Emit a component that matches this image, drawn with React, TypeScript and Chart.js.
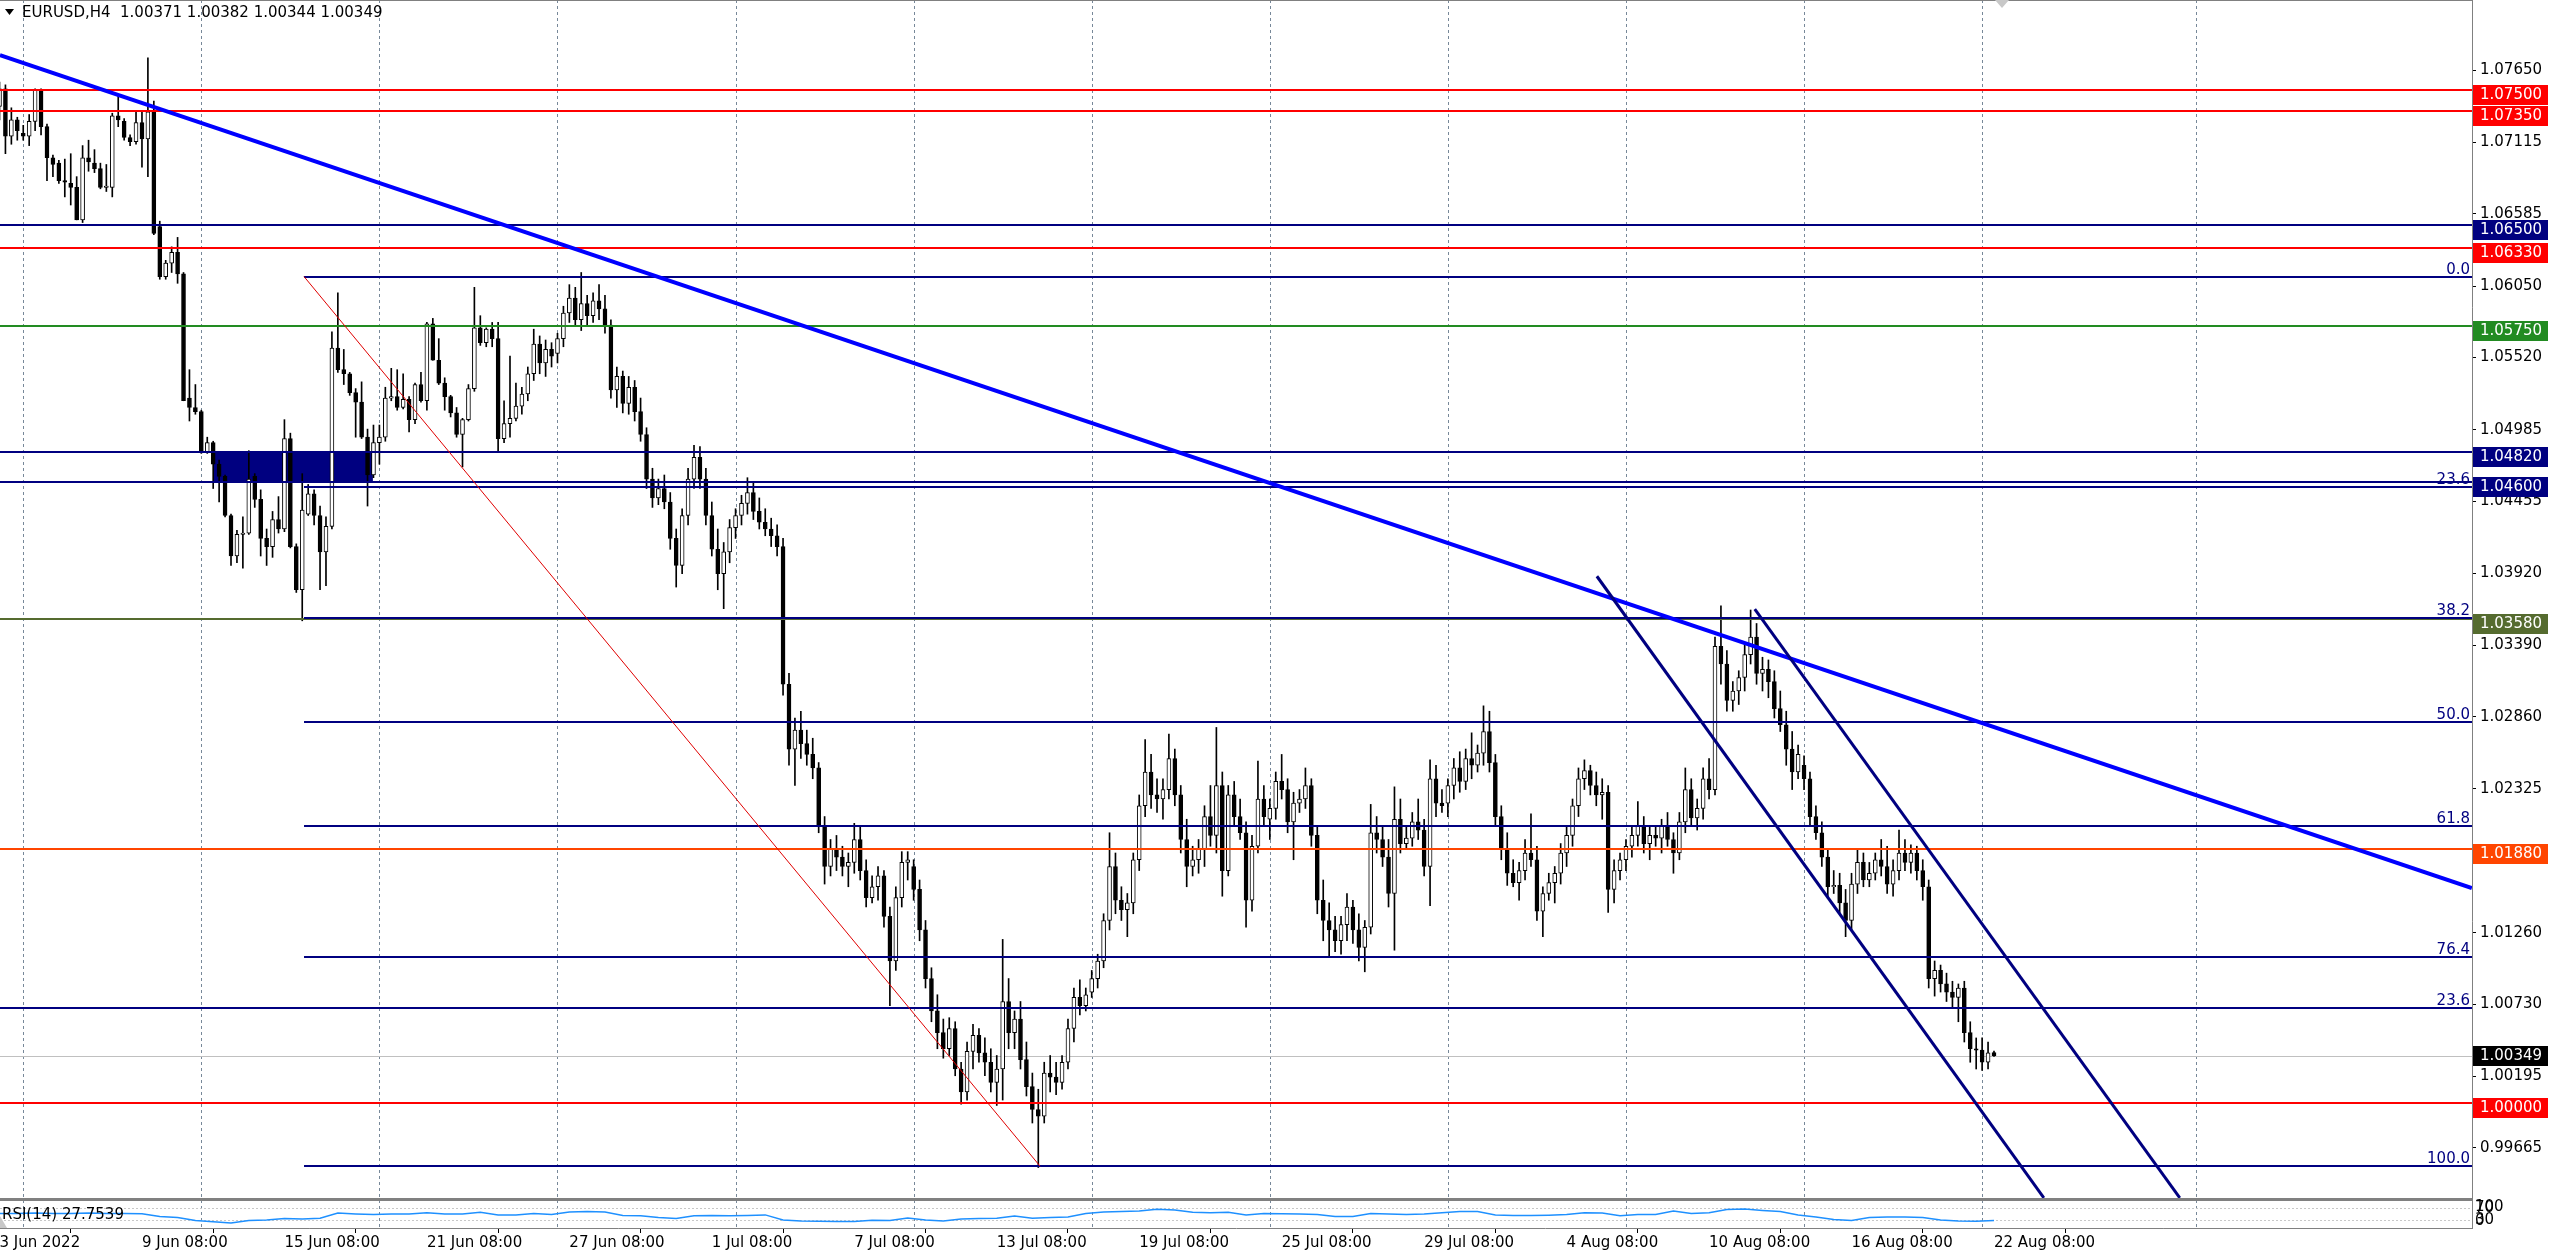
import React, { useEffect, useRef } from 'react';
import { Chart, registerables } from 'chart.js';
Chart.register(...registerables);

const W = 2560;
const H = 1254;
const FONT = '"DejaVu Sans", sans-serif';

// ---- candle data (EURUSD H4), bar 0 = 3 Jun 08:00 ... bar 336 = 22 Aug 08:00 ----
const opens = [
1.0738,1.0751,1.0716,1.0728,1.0718,1.0716,1.0727,1.0750,1.0723,1.0700,1.0696,1.0683,1.0681,1.0678,1.0654,1.0700,1.0696,1.0692,1.0678,1.0678,
1.0731,1.0727,1.0715,1.0712,1.0726,1.0714,1.0734,1.0649,1.0612,1.0622,1.0630,1.0614,1.0522,1.0515,1.0512,1.0482,1.0489,1.0473,1.0464,1.0435,
1.0405,1.0421,1.0422,1.0464,1.0447,1.0418,1.0412,1.0432,1.0425,1.0492,1.0412,1.0380,1.0436,1.0451,1.0435,1.0408,1.0427,1.0559,1.0543,1.0540,
1.0526,1.0519,1.0493,1.0465,1.0489,1.0493,1.0522,1.0523,1.0515,1.0521,1.0506,1.0532,1.0520,1.0577,1.0550,1.0533,1.0523,1.0511,1.0495,1.0506,
1.0529,1.0574,1.0563,1.0573,1.0566,1.0492,1.0503,1.0507,
1.0516,1.0525,1.0540,1.0562,1.0548,1.0558,1.0555,1.0566,1.0585,1.0596,
1.0580,1.0592,1.0583,1.0594,1.0588,1.0576,1.0528,1.0538,1.0518,1.0530,
1.0512,1.0495,1.0462,1.0448,1.0455,1.0445,1.0418,1.0398,1.0435,1.0462,
1.0478,1.0462,1.0435,1.0410,1.0392,1.0408,1.0426,1.0435,1.0444,1.0452,
1.0438,1.0430,1.0425,1.0420,1.0412,1.0310,1.0262,1.0276,1.0266,1.0258,
1.0248,1.0205,1.0175,1.0188,1.0182,1.0175,1.0178,1.0195,1.0172,1.0152,
1.0160,1.0168,1.0138,1.0105,1.0152,1.0178,1.0175,1.0158,1.0128,1.0092,
1.0068,1.0052,1.0040,1.0055,1.0025,1.0008,1.0038,1.0050,1.0037,1.0030,
1.0015,1.0025,1.0075,1.0052,1.0062,1.0032,1.0012,0.9995,0.9990,1.0022,
1.0019,1.0015,1.0030,1.0055,1.0078,1.0072,1.0082,1.0092,1.0105,1.0135,
1.0175,1.0150,1.0143,1.0148,1.0180,1.0220,1.0245,1.0228,1.0225,1.0232,
1.0255,1.0228,1.0195,1.0175,1.0180,1.0188,1.0212,1.0198,1.0235,1.0172,
1.0228,1.0212,1.0200,1.0150,1.0190,1.0225,1.0210,1.0218,1.0238,1.0232,
1.0208,1.0222,1.0225,1.0235,1.0198,1.0150,1.0135,1.0128,1.0120,1.0132,
1.0145,1.0128,1.0115,1.0130,1.0200,1.0195,1.0182,1.0155,1.0210,1.0192,
1.0196,1.0208,1.0202,1.0175,1.0240,1.0222,1.0222,1.0235,1.0248,1.0238,
1.0255,1.0250,1.0259,1.0275,1.0252,1.0212,1.0188,1.0170,1.0163,1.0172,
1.0185,1.0180,1.0142,1.0155,1.0163,1.0170,1.0185,1.0198,1.0220,1.0240,
1.0246,1.0235,1.0228,1.0230,1.0158,1.0172,1.0180,1.0190,1.0198,1.0205,
1.0192,1.0198,1.0196,1.0205,1.0195,1.0185,1.0208,1.0232,1.0211,1.0218,
1.0240,1.0232,1.0338,1.0325,1.0298,1.0305,1.0315,1.0332,1.0345,1.0318,
1.0321,1.0312,1.0292,1.0280,1.0262,1.0245,1.0250,1.0240,1.0212,1.0200,
1.0182,1.0160,1.0161,1.0148,1.0135,1.0162,1.0178,1.0165,1.0170,1.0180,
1.0175,1.0162,1.0172,1.0185,1.0178,1.0185,1.0172,1.0160,1.0092,1.0098,
1.0088,1.0082,1.0078,1.0085,1.0052,1.0040,1.0039,1.0030,1.00371
];
const highs = [
1.0756,1.0754,1.0737,1.0730,1.0724,1.0732,1.0751,1.0751,1.0725,1.0702,1.0698,1.0699,1.0703,1.0686,1.0709,1.0713,1.0706,1.0696,1.0695,1.0733,
1.0747,1.0729,1.0717,1.0734,1.0734,1.0774,1.0742,1.0653,1.0624,1.0634,1.0641,1.0615,1.0543,1.0532,1.0513,1.0493,1.0490,1.0476,1.0465,1.0436,
1.0424,1.0434,1.0483,1.0466,1.0454,1.0425,1.0438,1.0449,1.0506,1.0496,1.0414,1.0466,1.0458,1.0454,1.0442,1.0434,1.0571,1.0600,1.0558,1.0541,
1.0529,1.0534,1.0499,1.0502,1.0502,1.0530,1.0544,1.0543,1.0540,1.0523,1.0533,1.0541,1.0578,1.0581,1.0566,1.0537,1.0524,1.0515,1.0507,1.0532,
1.0604,1.0583,1.0574,1.0578,1.0578,1.0520,1.0553,1.0533,
1.0530,1.0545,1.0573,1.0568,1.0565,1.0563,1.0570,1.0590,1.0606,1.0604,
1.0615,1.0598,1.0600,1.0606,1.0598,1.0580,1.0545,1.0542,1.0538,1.0535,
1.0522,1.0500,1.0470,1.0462,1.0465,1.0452,1.0425,1.0440,1.0470,1.0487,
1.0486,1.0470,1.0445,1.0425,1.0415,1.0432,1.0440,1.0450,1.0463,1.0460,
1.0448,1.0440,1.0433,1.0428,1.0418,1.0318,1.0285,1.0290,1.0276,1.0270,
1.0252,1.0212,1.0195,1.0198,1.0190,1.0185,1.0207,1.0205,1.0180,1.0168,
1.0175,1.0172,1.0145,1.0160,1.0186,1.0186,1.0180,1.0165,1.0135,1.0100,
1.0080,1.0062,1.0063,1.0060,1.0030,1.0045,1.0058,1.0055,1.0048,1.0040,
1.0035,1.0121,1.0092,1.0068,1.0075,1.0045,1.0022,1.0010,1.0030,1.0035,
1.0030,1.0035,1.0062,1.0085,1.0091,1.0085,1.0098,1.0110,1.0140,1.0200,
1.0185,1.0160,1.0155,1.0185,1.0228,1.0269,1.0258,1.0240,1.0240,1.0273,
1.0262,1.0235,1.0210,1.0190,1.0195,1.0220,1.0235,1.0278,1.0245,1.0235,
1.0238,1.0225,1.0208,1.0198,1.0253,1.0235,1.0225,1.0245,1.0258,1.0240,
1.0230,1.0232,1.0248,1.0240,1.0205,1.0165,1.0148,1.0138,1.0138,1.0155,
1.0150,1.0140,1.0135,1.0221,1.0212,1.0205,1.0195,1.0234,1.0225,1.0205,
1.0215,1.0225,1.0210,1.0254,1.0250,1.0232,1.0240,1.0255,1.0260,1.0262,
1.0274,1.0265,1.0294,1.0290,1.0258,1.0220,1.0200,1.0180,1.0178,1.0195,
1.0214,1.0190,1.0160,1.0170,1.0175,1.0192,1.0205,1.0225,1.0248,1.0254,
1.0250,1.0245,1.0240,1.0235,1.0180,1.0185,1.0195,1.0205,1.0223,1.0212,
1.0205,1.0205,1.0210,1.0215,1.0200,1.0215,1.0248,1.0240,1.0225,1.0248,
1.0255,1.0345,1.0368,1.0335,1.0312,1.0320,1.0340,1.0365,1.0355,1.0330,
1.0328,1.0320,1.0305,1.0290,1.0275,1.0265,1.0257,1.0245,1.0220,1.0208,
1.0188,1.0172,1.0170,1.0158,1.0170,1.0188,1.0185,1.0178,1.0185,1.0195,
1.0190,1.0180,1.0202,1.0195,1.0191,1.0190,1.0180,1.0165,1.0105,1.0102,
1.0096,1.0090,1.0088,1.0090,1.0060,1.0048,1.0048,1.0045,1.00382
];
const lows = [
1.0728,1.0703,1.0710,1.0713,1.0713,1.0709,1.0720,1.0717,1.0683,1.0686,1.0681,1.0671,1.0665,1.0654,1.0652,1.0690,1.0689,1.0677,1.0675,1.0671,
1.0723,1.0713,1.0709,1.0710,1.0693,1.0686,1.0643,1.0610,1.0610,1.0615,1.0607,1.0520,1.0505,1.0510,1.0481,1.0481,1.0455,1.0445,1.0434,1.0398,
1.0400,1.0396,1.0421,1.0441,1.0405,1.0398,1.0404,1.0422,1.0423,1.0411,1.0378,1.0357,1.0435,1.0428,1.0380,1.0383,1.0425,1.0541,1.0532,1.0524,
1.0493,1.0492,1.0442,1.0463,1.0473,1.0490,1.0520,1.0513,1.0514,1.0497,1.0503,1.0519,1.0513,1.0550,1.0532,1.0513,1.0508,1.0493,1.0471,1.0505,
1.0527,1.0561,1.0560,1.0560,1.0483,1.0489,1.0493,1.0505,
1.0510,1.0520,1.0535,1.0540,1.0538,1.0545,1.0548,1.0560,1.0578,1.0575,
1.0572,1.0575,1.0578,1.0580,1.0570,1.0522,1.0515,1.0511,1.0510,1.0505,
1.0490,1.0455,1.0441,1.0443,1.0440,1.0410,1.0382,1.0392,1.0428,1.0455,
1.0455,1.0428,1.0405,1.0380,1.0366,1.0400,1.0418,1.0428,1.0436,1.0432,
1.0425,1.0420,1.0412,1.0405,1.0302,1.0250,1.0235,1.0255,1.0250,1.0240,
1.0200,1.0162,1.0168,1.0172,1.0168,1.0160,1.0170,1.0165,1.0145,1.0148,
1.0150,1.0130,1.0072,1.0098,1.0145,1.0165,1.0150,1.0120,1.0085,1.0060,
1.0040,1.0033,1.0035,1.0020,0.9999,1.0002,1.0025,1.0030,1.0020,1.0008,
0.9998,1.0002,1.0040,1.0040,1.0025,1.0005,0.9985,0.9952,0.9985,1.0008,
1.0006,1.0010,1.0025,1.0045,1.0065,1.0068,1.0078,1.0085,1.0100,1.0128,
1.0140,1.0135,1.0123,1.0140,1.0172,1.0212,1.0218,1.0215,1.0210,1.0225,
1.0220,1.0185,1.0160,1.0168,1.0170,1.0175,1.0190,1.0185,1.0153,1.0168,
1.0205,1.0195,1.0130,1.0142,1.0185,1.0205,1.0195,1.0210,1.0225,1.0200,
1.0180,1.0215,1.0218,1.0190,1.0140,1.0120,1.0109,1.0112,1.0110,1.0120,
1.0118,1.0105,1.0097,1.0125,1.0185,1.0175,1.0145,1.0113,1.0185,1.0188,
1.0190,1.0195,1.0168,1.0146,1.0212,1.0215,1.0212,1.0225,1.0230,1.0232,
1.0240,1.0245,1.0250,1.0245,1.0205,1.0180,1.0161,1.0160,1.0150,1.0165,
1.0175,1.0135,1.0123,1.0150,1.0148,1.0162,1.0175,1.0190,1.0212,1.0232,
1.0228,1.0220,1.0210,1.0141,1.0148,1.0165,1.0172,1.0182,1.0190,1.0185,
1.0180,1.0190,1.0185,1.0190,1.0170,1.0180,1.0200,1.0205,1.0202,1.0210,
1.0225,1.0228,1.0310,1.0290,1.0290,1.0295,1.0305,1.0325,1.0310,1.0305,
1.0300,1.0285,1.0275,1.0250,1.0232,1.0240,1.0232,1.0205,1.0195,1.0175,
1.0152,1.0155,1.0140,1.0123,1.0128,1.0155,1.0160,1.0160,1.0165,1.0168,
1.0155,1.0153,1.0165,1.0172,1.0170,1.0165,1.0150,1.0085,1.0079,1.0082,
1.0075,1.0070,1.0060,1.0045,1.0030,1.0025,1.0024,1.0025,1.00344
];
const closes = [
1.0751,1.0716,1.0728,1.0720,1.0716,1.0727,1.0750,1.0723,1.0700,1.0695,1.0683,1.0682,1.0678,1.0654,1.0700,1.0697,1.0692,1.0678,1.0679,1.0731,
1.0728,1.0715,1.0712,1.0726,1.0714,1.0734,1.0644,1.0612,1.0622,1.0630,1.0614,1.0520,1.0515,1.0512,1.0482,1.0489,1.0473,1.0464,1.0435,1.0405,
1.0421,1.0422,1.0462,1.0447,1.0418,1.0412,1.0432,1.0425,1.0492,1.0412,1.0380,1.0439,1.0451,1.0435,1.0408,1.0427,1.0559,1.0543,1.0540,1.0526,
1.0519,1.0493,1.0465,1.0489,1.0493,1.0522,1.0523,1.0515,1.0521,1.0506,1.0532,1.0520,1.0577,1.0550,1.0533,1.0523,1.0511,1.0495,1.0506,1.0529,
1.0574,1.0563,1.0573,1.0566,1.0492,1.0503,1.0507,1.0516,
1.0525,1.0540,1.0562,1.0548,1.0558,1.0553,1.0566,1.0585,1.0596,1.0580,
1.0592,1.0583,1.0594,1.0588,1.0576,1.0528,1.0538,1.0518,1.0530,1.0512,
1.0495,1.0462,1.0448,1.0455,1.0445,1.0418,1.0398,1.0435,1.0462,1.0478,
1.0462,1.0435,1.0410,1.0392,1.0408,1.0426,1.0435,1.0444,1.0452,1.0438,
1.0430,1.0425,1.0420,1.0412,1.0310,1.0262,1.0276,1.0266,1.0258,1.0248,
1.0205,1.0175,1.0188,1.0182,1.0175,1.0178,1.0195,1.0172,1.0152,1.0160,
1.0168,1.0138,1.0105,1.0152,1.0178,1.0180,1.0158,1.0128,1.0092,1.0068,
1.0052,1.0040,1.0055,1.0025,1.0008,1.0038,1.0050,1.0037,1.0030,1.0015,
1.0025,1.0075,1.0052,1.0062,1.0032,1.0012,0.9995,0.9990,1.0022,1.0019,
1.0015,1.0030,1.0055,1.0078,1.0072,1.0080,1.0092,1.0105,1.0135,1.0175,
1.0150,1.0143,1.0148,1.0180,1.0220,1.0245,1.0228,1.0225,1.0232,1.0255,
1.0228,1.0195,1.0175,1.0180,1.0188,1.0212,1.0198,1.0235,1.0172,1.0228,
1.0212,1.0200,1.0150,1.0190,1.0225,1.0212,1.0218,1.0238,1.0232,1.0208,
1.0222,1.0225,1.0235,1.0198,1.0150,1.0135,1.0128,1.0120,1.0132,1.0145,
1.0128,1.0115,1.0130,1.0200,1.0195,1.0182,1.0155,1.0210,1.0192,1.0196,
1.0208,1.0202,1.0175,1.0240,1.0222,1.0220,1.0235,1.0248,1.0238,1.0255,
1.0250,1.0259,1.0275,1.0252,1.0212,1.0188,1.0170,1.0163,1.0172,1.0185,
1.0180,1.0142,1.0155,1.0163,1.0170,1.0185,1.0198,1.0220,1.0240,1.0246,
1.0235,1.0228,1.0230,1.0158,1.0172,1.0180,1.0190,1.0198,1.0205,1.0192,
1.0198,1.0196,1.0205,1.0195,1.0185,1.0208,1.0232,1.0211,1.0218,1.0240,
1.0232,1.0338,1.0325,1.0298,1.0305,1.0315,1.0332,1.0345,1.0318,1.0321,
1.0312,1.0292,1.0280,1.0262,1.0245,1.0258,1.0240,1.0212,1.0200,1.0182,
1.0160,1.0161,1.0148,1.0135,1.0162,1.0178,1.0165,1.0170,1.0180,1.0175,
1.0162,1.0172,1.0185,1.0178,1.0185,1.0172,1.0160,1.0092,1.0098,1.0088,
1.0082,1.0078,1.0085,1.0052,1.0040,1.0039,1.0030,1.0037,1.00349
];

// ---- RSI(14), read every 3 bars ----
const rsiBars = [
0,3,6,9,12,15,18,21,24,27,30,33,36,39,42,45,48,51,54,57,60,63,66,69,72,75,78,81,84,87,90,93,96,99,102,105,108,111,114,117,
120,123,126,129,132,135,138,141,144,147,150,153,156,159,162,165,168,171,174,177,180,183,186,189,192,195,198,201,204,207,210,213,216,219,222,225,228,231,234,237,
240,243,246,249,252,255,258,261,264,267,270,273,276,279,282,285,288,291,294,297,300,303,306,309,312,315,318,321,324,327,330,333,336
];
const rsiValues = [
52,52,53,52,52,53,52,52,51,42,38,28,24,20,28,30,35,33,36,53,50,48,50,50,54,50,50,56,47,47,52,48,57,58,57,45,44,38,35,44,
45,44,45,47,30,27,26,25,25,29,28,37,30,27,33,35,36,43,36,38,40,52,57,58,60,66,63,56,54,56,47,52,51,50,48,42,42,52,50,48,
50,54,58,58,47,45,45,46,48,54,53,44,48,48,60,52,54,65,67,62,58,47,40,32,28,38,40,40,38,30,27,26,28
];
const rsiTicks = [100, 70, 30, 0];
const rsiLevels = [70, 30];

// ---- axes ----
const timeLabelBars = [0,24,48,72,96,120,144,168,192,216,240,264,288,312,336];
const timeLabels = ['3 Jun 2022','9 Jun 08:00','15 Jun 08:00','21 Jun 08:00','27 Jun 08:00','1 Jul 08:00','7 Jul 08:00','13 Jul 08:00','19 Jul 08:00','25 Jul 08:00','29 Jul 08:00','4 Aug 08:00','10 Aug 08:00','16 Aug 08:00','22 Aug 08:00'];
const gridBars = [4,34,64,94,124,154,184,214,244,274,304,334,370];
const priceTicks = [1.0765,1.07115,1.06585,1.0605,1.0552,1.04985,1.04455,1.0392,1.0339,1.0286,1.02325,1.01795,1.0126,1.0073,1.00195,0.99665];

// ---- chart objects ----
const levelPrices = [1.075, 1.0735, 1.065, 1.0633, 1.0575, 1.0482, 1.046, 1.0358, 1.0188, 1.0];
const levelColors = ['#FF0000','#FF0000','#000080','#FF0000','#228B22','#000080','#000080','#556B2F','#FF4500','#FF0000'];
const fibPrices = [1.0612, 1.0456, 1.0359, 1.0282, 1.0205, 1.0108, 0.9953];
const fibLabels = ['0.0','23.6','38.2','50.0','61.8','76.4','100.0'];
const fibStartBar = 51.3;
const fib2Price = 1.0070;
const fib2Label = '23.6';
const fibDiagBars = [51.3, 175.3];
const fibDiagPrices = [1.0612, 0.9953];
const trendBars = [0.08, 416.5];
const trendPrices = [1.0776, 1.0159];
const chan1Bars = [269.1, 344.4];
const chan1Prices = [1.0390, 0.99295];
const chan2Bars = [295.7, 367.3];
const chan2Prices = [1.03657, 0.99295];
const rectBars = [36.0, 62.9];
const rectPrices = [1.0460, 1.0482];
const currentPrice = 1.00349;
const headerText = 'EURUSD,H4  1.00371 1.00382 1.00344 1.00349';
const rsiText = 'RSI(14) 27.7539';

const PX_PER_BAR = 5.936;
const X_MIN = 0.5 / PX_PER_BAR;
const X_MAX = X_MIN + 2472 / PX_PER_BAR;
const PX_PER_PRICE = 13500;
const P_MAX = 1.0765 + 70 / PX_PER_PRICE;
const P_MIN = P_MAX - 1199 / PX_PER_PRICE;

export default function App() {
  const ref = useRef<HTMLCanvasElement>(null);
  useEffect(() => {
    document.body.style.margin = '0';
    document.body.style.overflow = 'hidden';
    const canvas = ref.current as HTMLCanvasElement;
    const n = opens.length;
    const idx = Array.from({ length: n }, (_, i) => i);
    const wickData = idx.map((i) => ({ x: i, y: [lows[i], highs[i]] }));
    const bodyData = idx.map((i) => ({ x: i, y: [opens[i], closes[i]] }));
    const bodyColors = idx.map((i) => (closes[i] >= opens[i] ? '#FFFFFF' : '#000000'));
    const rsiData = rsiBars.map((b, k) => ({ x: b, y: rsiValues[k] }));

    const seg = (ctx: CanvasRenderingContext2D, x1: number, y1: number, x2: number, y2: number) => {
      ctx.beginPath(); ctx.moveTo(x1, y1); ctx.lineTo(x2, y2); ctx.stroke();
    };

    const overlay = {
      id: 'mt4',
      beforeDraw(chart: any) {
        const ctx = chart.ctx;
        ctx.save(); ctx.fillStyle = '#FFFFFF'; ctx.fillRect(0, 0, W, H); ctx.restore();
      },
      beforeDatasetsDraw(chart: any) {
        const { ctx, chartArea } = chart;
        const xs = chart.scales.x, ys = chart.scales.y, rs = chart.scales.rsi;
        ctx.save();
        ctx.lineWidth = 1;
        ctx.strokeStyle = '#778899';
        ctx.setLineDash([3, 3]);
        gridBars.forEach((b) => {
          const x = Math.round(xs.getPixelForValue(b)) + 0.5;
          seg(ctx, x, chartArea.top, x, chartArea.bottom);
        });
        ctx.strokeStyle = '#C8C8C8';
        ctx.setLineDash([2, 2]);
        rsiLevels.forEach((v) => {
          const y = Math.round(rs.getPixelForValue(v)) + 0.5;
          seg(ctx, chartArea.left, y, chartArea.right, y);
        });
        ctx.setLineDash([]);
        ctx.strokeStyle = '#C0C0C0';
        const yc = Math.round(ys.getPixelForValue(currentPrice)) + 0.5;
        seg(ctx, chartArea.left, yc, chartArea.right, yc);
        ctx.fillStyle = '#000080';
        const rx1 = xs.getPixelForValue(rectBars[0]);
        const rx2 = xs.getPixelForValue(rectBars[1]);
        const ry1 = ys.getPixelForValue(rectPrices[1]);
        const ry2 = ys.getPixelForValue(rectPrices[0]);
        ctx.fillRect(rx1, ry1, rx2 - rx1, ry2 - ry1);
        ctx.restore();
      },
      afterDatasetsDraw(chart: any) {
        const { ctx, chartArea } = chart;
        const xs = chart.scales.x, ys = chart.scales.y;
        ctx.save();
        ctx.beginPath();
        ctx.rect(chartArea.left, ys.top, chartArea.right - chartArea.left, ys.bottom - ys.top);
        ctx.clip();
        ctx.lineWidth = 2;
        levelPrices.forEach((p, k) => {
          const y = Math.round(ys.getPixelForValue(p));
          ctx.strokeStyle = levelColors[k];
          seg(ctx, chartArea.left, y, chartArea.right, y);
        });
        ctx.strokeStyle = '#000080';
        const y2 = Math.round(ys.getPixelForValue(fib2Price));
        seg(ctx, chartArea.left, y2, chartArea.right, y2);
        const fx = xs.getPixelForValue(fibStartBar);
        fibPrices.forEach((p) => {
          const y = Math.round(ys.getPixelForValue(p));
          seg(ctx, fx, y, chartArea.right, y);
        });
        ctx.lineWidth = 1;
        ctx.strokeStyle = '#E00000';
        seg(ctx, xs.getPixelForValue(fibDiagBars[0]), ys.getPixelForValue(fibDiagPrices[0]), xs.getPixelForValue(fibDiagBars[1]), ys.getPixelForValue(fibDiagPrices[1]));
        ctx.lineWidth = 4;
        ctx.strokeStyle = '#0000FF';
        seg(ctx, xs.getPixelForValue(trendBars[0]), ys.getPixelForValue(trendPrices[0]), xs.getPixelForValue(trendBars[1]), ys.getPixelForValue(trendPrices[1]));
        ctx.lineWidth = 3;
        ctx.strokeStyle = '#000080';
        seg(ctx, xs.getPixelForValue(chan1Bars[0]), ys.getPixelForValue(chan1Prices[0]), xs.getPixelForValue(chan1Bars[1]), ys.getPixelForValue(chan1Prices[1]));
        seg(ctx, xs.getPixelForValue(chan2Bars[0]), ys.getPixelForValue(chan2Prices[0]), xs.getPixelForValue(chan2Bars[1]), ys.getPixelForValue(chan2Prices[1]));
        ctx.font = '15px ' + FONT;
        ctx.fillStyle = '#000080';
        ctx.textAlign = 'right';
        ctx.textBaseline = 'alphabetic';
        fibPrices.forEach((p, k) => {
          const y = Math.round(ys.getPixelForValue(p));
          ctx.fillText(fibLabels[k], chartArea.right - 2, y - 3);
        });
        ctx.fillText(fib2Label, chartArea.right - 2, y2 - 3);
        ctx.restore();
      },
      afterDraw(chart: any) {
        const { ctx, chartArea } = chart;
        const xs = chart.scales.x, ys = chart.scales.y, rs = chart.scales.rsi;
        ctx.save();
        ctx.lineWidth = 1;
        ctx.strokeStyle = '#808080';
        seg(ctx, chartArea.left, 0.5, chartArea.right, 0.5);
        seg(ctx, chartArea.right + 0.5, 0, chartArea.right + 0.5, chartArea.bottom);
        ctx.lineWidth = 2;
        seg(ctx, chartArea.left, Math.round(ys.bottom), chartArea.right, Math.round(ys.bottom));
        ctx.lineWidth = 1;
        seg(ctx, chartArea.left, Math.round(rs.top) + 1.5, chartArea.right, Math.round(rs.top) + 1.5);
        seg(ctx, chartArea.left, chartArea.bottom - 0.5, chartArea.right + 1, chartArea.bottom - 0.5);
        // small markers (shift / scroll)
        ctx.fillStyle = '#C8C8C8';
        const mx = xs.getPixelForValue(n - 1) + 8;
        ctx.beginPath(); ctx.moveTo(mx - 7, 0); ctx.lineTo(mx + 7, 0); ctx.lineTo(mx, 8); ctx.closePath(); ctx.fill();
        ctx.beginPath(); ctx.moveTo(0, chartArea.bottom - 13); ctx.lineTo(7, chartArea.bottom - 1); ctx.lineTo(0, chartArea.bottom - 1); ctx.closePath(); ctx.fill();
        // price boxes
        ctx.font = '15px ' + FONT;
        ctx.textAlign = 'left';
        ctx.textBaseline = 'middle';
        levelPrices.forEach((p, k) => {
          const y = Math.round(ys.getPixelForValue(p));
          ctx.fillStyle = levelColors[k];
          ctx.fillRect(chartArea.right + 1, y - 5, 75, 20);
          ctx.fillStyle = '#FFFFFF';
          ctx.fillText(p.toFixed(5), chartArea.right + 8, y + 5);
        });
        const yc = Math.round(ys.getPixelForValue(currentPrice));
        ctx.fillStyle = '#000000';
        ctx.fillRect(chartArea.right + 1, yc - 10, 75, 20);
        ctx.fillStyle = '#FFFFFF';
        ctx.fillText(currentPrice.toFixed(5), chartArea.right + 8, yc);
        // RSI axis labels (squeezed into the small panel)
        ctx.fillStyle = '#000000';
        rsiTicks.forEach((v) => {
          const y = Math.min(Math.max(rs.getPixelForValue(v), rs.top + 8), rs.bottom - 8);
          ctx.fillText(String(v), chartArea.right + 3, y);
        });
        // header
        ctx.beginPath(); ctx.moveTo(5, 9); ctx.lineTo(14, 9); ctx.lineTo(9.5, 15); ctx.closePath(); ctx.fill();
        ctx.fillText(headerText, 22, 13);
        ctx.fillText(rsiText, 2, Math.round(rs.top) + 16);
        ctx.restore();
      },
    };

    const tickFont = { family: FONT, size: 15 };
    const chart = new Chart(canvas, {
      type: 'bar',
      data: {
        datasets: [
          { type: 'bar', label: 'wicks', data: wickData as any, backgroundColor: '#000000', borderWidth: 0, barThickness: 1, grouped: false, order: 2, xAxisID: 'x', yAxisID: 'y' } as any,
          { type: 'bar', label: 'bodies', data: bodyData as any, backgroundColor: bodyColors, borderColor: '#000000', borderWidth: 1, borderSkipped: false, barThickness: 4, minBarLength: 1, grouped: false, order: 1, xAxisID: 'x', yAxisID: 'y' } as any,
          { type: 'line', label: 'RSI', data: rsiData as any, borderColor: '#1E90FF', borderWidth: 1.5, pointRadius: 0, tension: 0, xAxisID: 'x', yAxisID: 'rsi', order: 0 } as any,
        ],
      },
      options: {
        responsive: false,
        animation: false,
        devicePixelRatio: 1,
        events: [],
        layout: { padding: 0 },
        plugins: { legend: { display: false }, tooltip: { enabled: false } },
        scales: {
          x: {
            type: 'linear', min: X_MIN, max: X_MAX, offset: false, bounds: 'data',
            afterBuildTicks: (s: any) => { s.ticks = timeLabelBars.map((v) => ({ value: v })); },
            ticks: { autoSkip: false, maxRotation: 0, minRotation: 0, align: 'start', padding: 1, color: '#000000', font: tickFont,
              callback: (_v: any, i: number) => timeLabels[i] },
            grid: { display: true, drawOnChartArea: false, drawTicks: true, tickLength: 4, color: '#000000', lineWidth: 1 },
            border: { display: false },
            afterFit: (s: any) => { s.height = 25; s.paddingLeft = 0; s.paddingRight = 0; },
          },
          y: {
            type: 'linear', position: 'right', stack: 'v', stackWeight: 1199, min: P_MIN, max: P_MAX, bounds: 'data', beginAtZero: false,
            afterBuildTicks: (s: any) => { s.ticks = priceTicks.map((v) => ({ value: v })); },
            ticks: { autoSkip: false, padding: 4, color: '#000000', font: tickFont, callback: (v: any) => Number(v).toFixed(5) },
            grid: { display: true, drawOnChartArea: false, drawTicks: true, tickLength: 4, color: '#000000', lineWidth: 1 },
            border: { display: false },
            afterFit: (s: any) => { s.width = 88; s.paddingTop = 0; s.paddingBottom = 0; },
          },
          rsi: {
            type: 'linear', position: 'right', stack: 'v', stackWeight: 30, min: 0, max: 100, bounds: 'data',
            afterBuildTicks: (s: any) => { s.ticks = rsiTicks.map((v) => ({ value: v })); },
            ticks: { display: false },
            grid: { display: false, drawTicks: false },
            border: { display: false },
            afterFit: (s: any) => { s.width = 88; s.paddingTop = 0; s.paddingBottom = 0; },
          },
        },
      } as any,
      plugins: [overlay],
    });
    return () => chart.destroy();
  }, []);
  return <canvas ref={ref} width={W} height={H} style={{ display: 'block' }} />;
}
